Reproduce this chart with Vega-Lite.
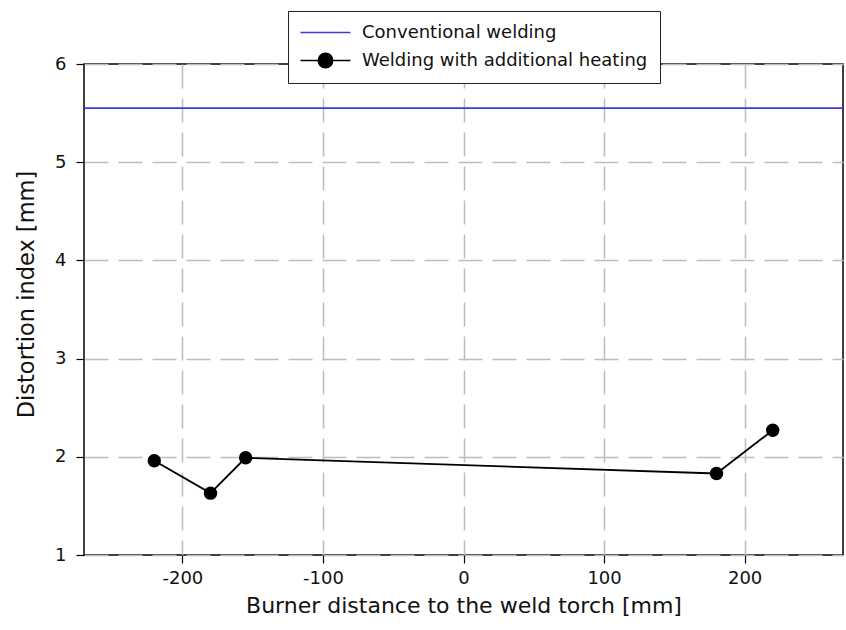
{
  "$schema": "https://vega.github.io/schema/vega-lite/v6.json",
  "width": 759,
  "height": 491,
  "autosize": {"type": "none"},
  "padding": {"left": 84, "top": 64, "right": 3, "bottom": 75},
  "background": "white",
  "config": {
    "font": "DejaVu Sans",
    "view": {"stroke": "black", "strokeWidth": 1.5},
    "axis": {
      "domain": false,
      "grid": true,
      "gridColor": "#bdbdbd",
      "gridDash": [24, 10],
      "gridWidth": 1.5,
      "tickColor": "black",
      "tickSize": 8,
      "tickWidth": 1.2,
      "labelFontSize": 18,
      "labelColor": "#111",
      "labelExpr": "datum.value + ''",
      "titleFontSize": 22.5,
      "titleFontWeight": "normal",
      "titleColor": "#111"
    }
  },
  "datasets": {
    "conv": [{"series": "Conventional welding", "distortion": 5.55}],
    "heat": [
      {"series": "Welding with additional heating", "distance": -220, "distortion": 1.96},
      {"series": "Welding with additional heating", "distance": -180, "distortion": 1.63},
      {"series": "Welding with additional heating", "distance": -155, "distortion": 1.99},
      {"series": "Welding with additional heating", "distance": 180, "distortion": 1.83},
      {"series": "Welding with additional heating", "distance": 220, "distortion": 2.27}
    ]
  },
  "layer": [
    {
      "data": {"name": "conv"},
      "mark": {"type": "rule", "strokeWidth": 1.8},
      "encoding": {
        "y": {"field": "distortion", "type": "quantitative", "scale": {"domain": [1, 6]}},
        "color": {
          "field": "series",
          "type": "nominal",
          "scale": {"domain": ["Conventional welding", "Welding with additional heating"], "range": ["#3a3adc", "#000000"]},
          "legend": {
            "title": null,
            "orient": "none",
            "legendX": 204,
            "legendY": -53,
            "direction": "vertical",
            "strokeColor": "#222",
            "fillColor": "white",
            "padding": 12,
            "labelFontSize": 18,
            "labelColor": "#111",
            "labelLimit": 500,
            "labelOffset": 27,
            "symbolSize": 289,
            "symbolOffset": 16,
            "rowPadding": 8,
            "symbolType": "M-2.94,0H2.94",
            "encode": {
              "symbols": {
                "update": {
                  "shape": [
                    {"test": "datum.value === 'Conventional welding'", "value": "M-2.94,0H2.94"},
                    {"value": "M-2.94,0H2.94M-0.85,0A0.85,0.85,0,1,0,0.85,0A0.85,0.85,0,1,0,-0.85,0Z"}
                  ],
                  "fill": [
                    {"test": "datum.value === 'Conventional welding'", "value": "transparent"},
                    {"value": "black"}
                  ],
                  "stroke": [
                    {"test": "datum.value === 'Conventional welding'", "value": "#3a3adc"},
                    {"value": "black"}
                  ],
                  "strokeWidth": {"value": 1.5},
                  "opacity": {"value": 1}
                }
              }
            }
          }
        }
      }
    },
    {
      "data": {"name": "heat"},
      "mark": {"type": "line", "strokeWidth": 1.8, "point": {"filled": true, "size": 180, "opacity": 1}},
      "encoding": {
        "x": {
          "field": "distance",
          "type": "quantitative",
          "scale": {"domain": [-270, 270], "nice": false},
          "axis": {"values": [-200, -100, 0, 100, 200], "title": "Burner distance to the weld torch [mm]", "titleFontSize": 22, "labelPadding": 6, "titlePadding": 8}
        },
        "y": {
          "field": "distortion",
          "type": "quantitative",
          "scale": {"domain": [1, 6], "nice": false},
          "axis": {"values": [1, 2, 3, 4, 5, 6], "title": "Distortion index [mm]", "labelPadding": 10, "titleX": -46, "titleY": 230}
        },
        "color": {"field": "series", "type": "nominal"}
      }
    }
  ]
}
